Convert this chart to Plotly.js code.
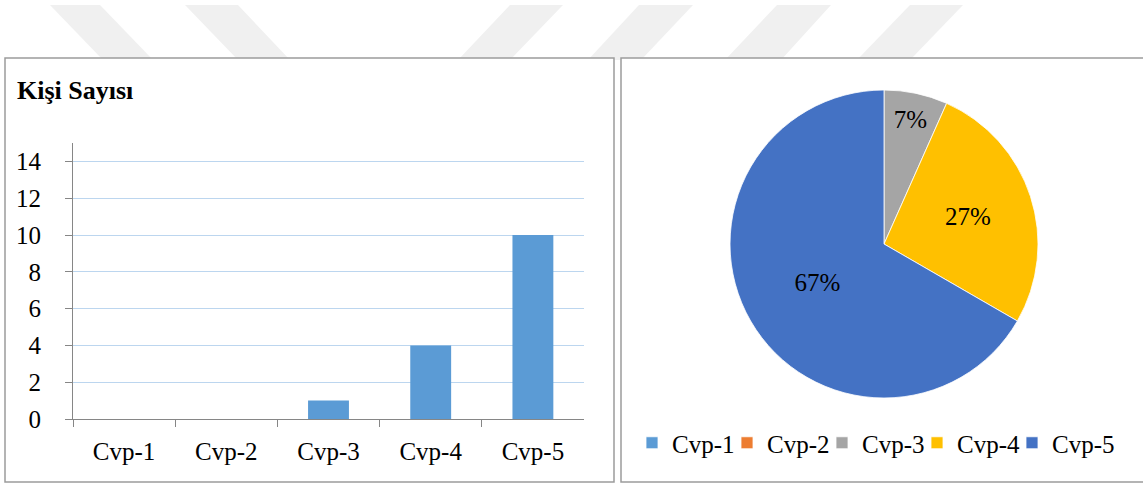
<!DOCTYPE html>
<html>
<head>
<meta charset="utf-8">
<script src="https://cdn.plot.ly/plotly-3.0.1.min.js"></script>
<style>
html,body{margin:0;padding:0;background:#fff;}
#chart{width:1143px;height:484px;}
g.legend g.scrollbox{clip-path:none !important;}
</style>
</head>
<body>
<div id="chart"></div>
<script>
// ---- data ----
const categories = ['Cvp-1', 'Cvp-2', 'Cvp-3', 'Cvp-4', 'Cvp-5'];
const counts = [0, 0, 1, 4, 10];
const yTicks = [0, 2, 4, 6, 8, 10, 12, 14];
const barTitle = 'Kişi Sayısı';
const sliceColors = ['#5B9BD5', '#ED7D31', '#A5A5A5', '#FFC000', '#4472C4'];

// ---- helpers (pixel -> paper) ----
const W = 1143, H = 484;
const px = x => x / W;
const py = y => 1 - y / H;
const FONT = 'Liberation Serif, Times New Roman, serif';

const total = counts.reduce((a, b) => a + b, 0);
const pieText = counts.map(v => v > 0 ? Math.round(100 * v / total) + '%' : '');

// watermark bands (decoration): [topLeft, topRight, bottomLeft, bottomRight] x in px
const bands = [
  [50, 100, 103, 153], [185, 238, 238, 290],
  [510, 563, 458, 510], [639, 693, 588, 641],
  [777, 831, 725, 781], [910, 963, 857, 910]
];
const bandTop = 5, bandBot = 60;
const shapes = bands.map(b => ({
  type: 'path', xref: 'paper', yref: 'paper', layer: 'below',
  path: `M${px(b[0])},${py(bandTop)} L${px(b[1])},${py(bandTop)} L${px(b[3])},${py(bandBot)} L${px(b[2])},${py(bandBot)} Z`,
  fillcolor: '#f0f0f0', line: {width: 0}
}));
shapes.push({type: 'rect', xref: 'paper', yref: 'paper', layer: 'below',
  x0: px(5), x1: px(614), y0: py(482), y1: py(58),
  fillcolor: '#ffffff', line: {color: '#9c9c9c', width: 1.5}});
shapes.push({type: 'rect', xref: 'paper', yref: 'paper', layer: 'below',
  x0: px(621), x1: px(1160), y0: py(482), y1: py(58),
  fillcolor: '#ffffff', line: {color: '#9c9c9c', width: 1.5}});

const barTrace = {
  type: 'bar', x: categories, y: counts, width: 0.4,
  marker: {color: sliceColors[0]}, showlegend: false, hoverinfo: 'x+y',
  xaxis: 'x', yaxis: 'y'
};

const pieTrace = {
  type: 'pie', labels: categories, values: counts, sort: false,
  direction: 'clockwise', rotation: 0,
  marker: {colors: sliceColors, line: {color: '#ffffff', width: 0.8}},
  text: pieText, textinfo: 'text', textposition: 'inside',
  insidetextorientation: 'horizontal',
  textfont: {family: FONT, size: 25, color: '#000'},
  domain: {x: [px(730), px(1038)], y: [py(398), py(90)]},
  showlegend: true
};

const layout = {
  width: W, height: H,
  margin: {l: 0, r: 0, t: 0, b: 0, pad: 0, autoexpand: false},
  paper_bgcolor: '#ffffff', plot_bgcolor: 'rgba(0,0,0,0)',
  font: {family: FONT, size: 25, color: '#000'},
  bargap: 0.6,
  xaxis: {
    domain: [px(73), px(584)], type: 'category', range: [-0.5, 4.5],
    tickson: 'boundaries', ticks: 'outside', ticklen: 7, tickcolor: '#868686',
    showline: true, linecolor: '#868686', linewidth: 1, showgrid: false,
    tickangle: 0, automargin: false, ticklabelstandoff: 10,
    tickfont: {family: FONT, size: 25, color: '#000'}, fixedrange: true
  },
  yaxis: {
    domain: [py(419), py(143)], range: [0, 15], tickvals: yTicks,
    ticks: 'outside', ticklen: 7, tickcolor: '#868686',
    showline: true, linecolor: '#868686', linewidth: 1, automargin: false,
    showgrid: true, gridcolor: '#bcd6ef', gridwidth: 1, zeroline: false,
    tickfont: {family: FONT, size: 25, color: '#000'}, ticklabelstandoff: 19,
    fixedrange: true
  },
  legend: {
    orientation: 'h', x: px(632), xanchor: 'left', y: py(443), yanchor: 'middle',
    entrywidth: 50, entrywidthmode: 'pixels', bgcolor: 'rgba(0,0,0,0)',
    font: {family: FONT, size: 25, color: '#000'}, traceorder: 'normal'
  },
  shapes: shapes,
  annotations: [{
    text: barTitle, xref: 'paper', yref: 'paper', x: px(15), y: py(91),
    xanchor: 'left', yanchor: 'middle', showarrow: false,
    font: {family: FONT, size: 26, color: '#000', weight: 'bold'}
  }]
};

Plotly.newPlot('chart', [barTrace, pieTrace], layout, {displayModeBar: false, staticPlot: true});
</script>
</body>
</html>
